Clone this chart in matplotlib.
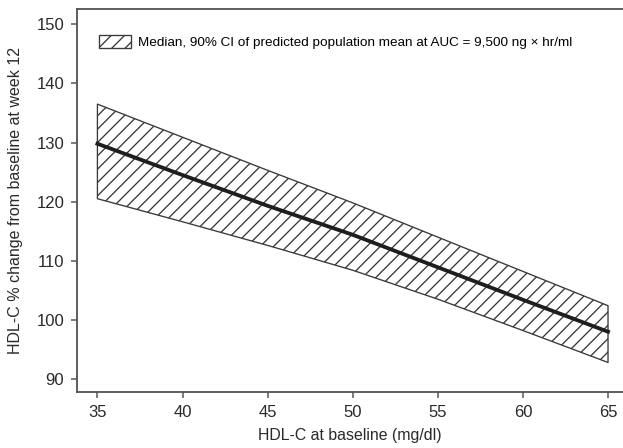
"""
HDL-C % change vs baseline HDL-C, median and 90% CI band.
"""

import matplotlib
matplotlib.use("Agg")
import matplotlib.pyplot as plt

# values
hdl_baseline = [35, 40, 45, 50, 55, 60, 65]
median_change = [129.8, 124.5, 119.3, 114.4, 108.9, 103.4, 98.0]
upper_ci = [136.5, 130.9, 125.3, 119.8, 114.0, 108.2, 102.4]
lower_ci = [120.5, 116.6, 112.6, 108.4, 103.5, 98.2, 92.8]

x_ticks = [35, 40, 45, 50, 55, 60, 65]
y_ticks = [90, 100, 110, 120, 130, 140, 150]

legend_label = "Median, 90% CI of predicted population mean at AUC = 9,500 ng \u00d7 hr/ml"

plt.rcParams["font.family"] = ["Liberation Sans", "DejaVu Sans"]
plt.rcParams["hatch.linewidth"] = 0.8

dpi = 120
fig = plt.figure(figsize=(623 / dpi, 448 / dpi), dpi=dpi)
ax = fig.add_axes([0.1236, 0.125, 0.8764, 0.855])

# CI band with diagonal hatching
band = ax.fill_between(
    hdl_baseline, lower_ci, upper_ci,
    facecolor="white", edgecolor="#3a3a3a", hatch="///", linewidth=0.8,
    label=legend_label,
)
ax.plot(hdl_baseline, median_change, color="#1e1e1e", linewidth=2.3)

ax.set_xlim(33.8, 65.88)
ax.set_ylim(87.8, 152.6)
ax.set_xticks(x_ticks)
ax.set_yticks(y_ticks)

for side in ["left", "bottom", "top"]:
    ax.spines[side].set_color("#555555")
    ax.spines[side].set_linewidth(1.1)
ax.spines["right"].set_visible(False)

ax.tick_params(direction="out", length=3.6, width=0.9, color="#555555",
               labelsize=10, labelcolor="#2a2a2a", pad=4)

ax.set_xlabel("HDL-C at baseline (mg/dl)", fontsize=9.5, color="#2a2a2a", labelpad=5)
ax.set_ylabel("HDL-C % change from baseline at week 12", fontsize=9.6,
              color="#2a2a2a", labelpad=8)

ax.legend(handles=[band], loc="upper left", frameon=False, fontsize=8.1,
          handlelength=2.4, handleheight=1.1, handletextpad=0.5,
          borderaxespad=0.0, bbox_to_anchor=(0.03, 0.945))

fig.savefig("out.png", dpi=dpi)
